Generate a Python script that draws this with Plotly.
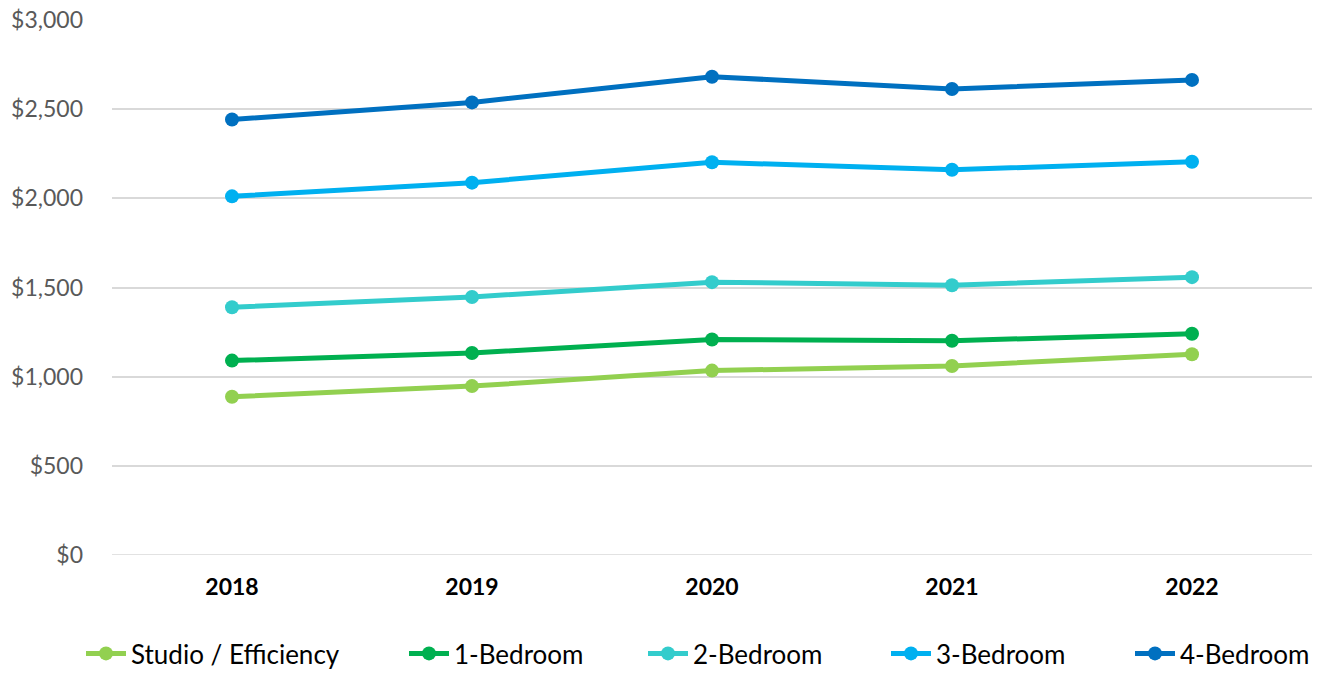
import plotly.graph_objects as go

years = ["2018", "2019", "2020", "2021", "2022"]
studio = [887, 947, 1034, 1060, 1126]
bed1 = [1090, 1133, 1208, 1201, 1241]
bed2 = [1389, 1447, 1530, 1513, 1558]
bed3 = [2011, 2088, 2202, 2160, 2205]
bed4 = [2442, 2538, 2682, 2613, 2664]

series_names = ["Studio / Efficiency", "1-Bedroom", "2-Bedroom", "3-Bedroom", "4-Bedroom"]
series_vals = [studio, bed1, bed2, bed3, bed4]
colors = ["#92D050", "#00B050", "#33CCCC", "#00B0F0", "#0070C0"]
legend_ids = ["legend", "legend2", "legend3", "legend4", "legend5"]
legend_text_x = [131, 454, 693, 936, 1180]

W, H = 1326, 677
font_family = "Lato, 'DejaVu Sans', sans-serif"

fig = go.Figure()
for name, vals, c, lid in zip(series_names, series_vals, colors, legend_ids):
    fig.add_trace(go.Scatter(
        x=years, y=vals, name=name, mode="lines+markers",
        line=dict(color=c, width=5),
        marker=dict(color=c, size=14),
        legend=lid,
    ))

layout_legends = {}
for lid, tx in zip(legend_ids, legend_text_x):
    layout_legends[lid] = dict(
        orientation="h", xref="container", yref="container",
        x=(tx - 50) / W, xanchor="left",
        y=-0.0065, yanchor="bottom",
        font=dict(size=26, color="#000000", family=font_family),
        itemwidth=40, bgcolor="rgba(0,0,0,0)", borderwidth=0,
    )

fig.update_layout(
    width=W, height=H,
    margin=dict(l=112, r=14, t=20, b=122, autoexpand=False),
    plot_bgcolor="white", paper_bgcolor="white",
    font=dict(family=font_family),
    xaxis=dict(
        type="category", range=[-0.5, 4.5],
        showgrid=False, showline=False, zeroline=False,
        ticks="", ticklabelstandoff=16,
        tickfont=dict(size=23, color="black", family=font_family, weight="bold"),
    ),
    yaxis=dict(
        range=[0, 3000], dtick=500, tickprefix="$", tickformat=",",
        showgrid=True, gridcolor="#D9D9D9", gridwidth=1.5,
        zeroline=False, showline=False, ticks="",
        ticklabelstandoff=28,
        tickfont=dict(size=23, color="#595959", family=font_family),
    ),
    showlegend=True,
    **layout_legends,
)
fig.add_shape(type="line", xref="paper", yref="y", x0=0, x1=1, y0=0, y1=0,
              line=dict(color="#D9D9D9", width=1.5), layer="below")

fig.write_html("out.html")
